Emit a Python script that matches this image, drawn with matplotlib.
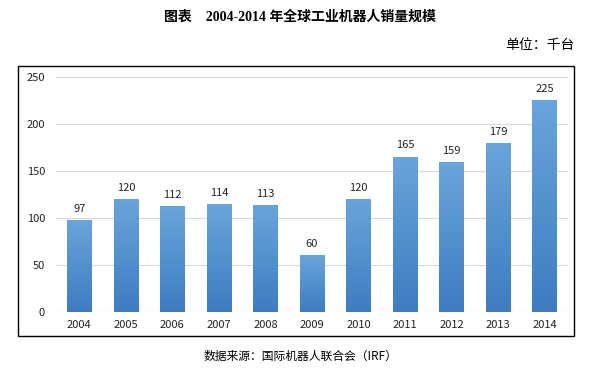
import numpy as np
import matplotlib
matplotlib.use("Agg")
import matplotlib.pyplot as plt
from matplotlib.patches import Rectangle
from matplotlib.colors import LinearSegmentedColormap

plt.rcParams['font.family'] = ['Noto Sans CJK SC', 'DejaVu Sans']

years = ['2004', '2005', '2006', '2007', '2008', '2009', '2010', '2011', '2012', '2013', '2014']
sales = [97, 120, 112, 114, 113, 60, 120, 165, 159, 179, 225]

fig = plt.figure(figsize=(5.97, 3.71), dpi=100)
fig.patch.set_facecolor('white')

# chart frame
fig.patches.append(Rectangle((0.030, 0.094), 0.931, 0.728, transform=fig.transFigure,
                             fill=False, edgecolor='black', linewidth=1.0))

ax = fig.add_axes([0.094, 0.159, 0.857, 0.633])
x = np.arange(len(years))
width = 0.52
bars = ax.bar(x, sales, width=width, color='#5b9bd5', zorder=2)

# vertical gradient for each bar (lighter at top, darker at bottom)
cmap = LinearSegmentedColormap.from_list('bl', ['#3d7cc0', '#69a5dc'])
grad = np.linspace(0, 1, 256).reshape(-1, 1)
for b in bars:
    x0, w, h = b.get_x(), b.get_width(), b.get_height()
    ax.imshow(grad, extent=(x0, x0 + w, 0, h), origin='lower', cmap=cmap,
              aspect='auto', zorder=3)
    b.set_visible(False)

for xi, v in zip(x, sales):
    ax.text(xi, v + 7, str(v), ha='center', va='bottom', fontsize=8, color='#222222')

ax.set_xlim(-0.5, len(years) - 0.5)
ax.set_ylim(0, 250)
ax.set_yticks(range(0, 251, 50))
ax.set_xticks(x)
ax.set_xticklabels(years)
ax.tick_params(axis='both', length=0, labelsize=8, colors='#222222')
ax.tick_params(axis='y', pad=8)
ax.tick_params(axis='x', pad=6)
ax.grid(axis='y', color='#d9d9d9', linewidth=0.8, zorder=0)
for s in ax.spines.values():
    s.set_visible(False)
ax.axhline(0, color='#d9d9d9', linewidth=0.8, zorder=1)

fig.text(0.503, 0.955, '图表    2004-2014 年全球工业机器人销量规模', ha='center', va='center',
         fontsize=10, fontweight='bold', family=['Liberation Serif', 'Noto Sans CJK SC'])
fig.text(0.963, 0.878, '单位：千台', ha='right', va='center', fontsize=10)
fig.text(0.503, 0.040, '数据来源：国际机器人联合会（IRF）', ha='center', va='center', fontsize=8.5)

fig.savefig('out.png', dpi=100)
